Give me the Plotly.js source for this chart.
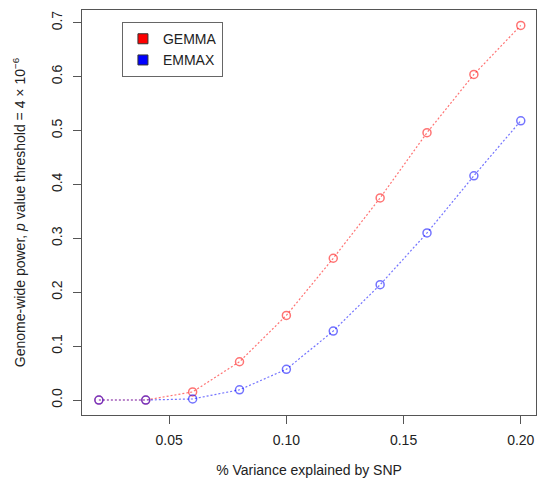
<!DOCTYPE html>
<html><head><meta charset="utf-8">
<script src="https://cdn.plot.ly/plotly-3.0.1.min.js"></script>
<style>html,body{margin:0;padding:0;background:#fff}#chart{width:537px;height:487px}</style>
</head><body><div id="chart"></div>
<script>
const variance = [0.02, 0.04, 0.06, 0.08, 0.10, 0.12, 0.14, 0.16, 0.18, 0.20];
const gemmaPower = [0.000, 0.000, 0.015, 0.071, 0.157, 0.263, 0.375, 0.496, 0.604, 0.695];
const emmaxPower = [0.000, 0.000, 0.002, 0.019, 0.057, 0.128, 0.214, 0.310, 0.416, 0.518];
const seriesNames = ["GEMMA", "EMMAX"];
const xTicks = [0.05, 0.10, 0.15, 0.20];
const yTicks = [0.0, 0.1, 0.2, 0.3, 0.4, 0.5, 0.6, 0.7];

const red = "rgba(255,0,0,0.55)";
const blue = "rgba(0,0,255,0.55)";
function series(y, col) {
  return {x: variance, y: y, type: "scatter", mode: "lines+markers", showlegend: false,
    line: {color: col, width: 1.2, dash: "2px,2px"},
    marker: {symbol: "circle-open", size: 8, color: col, line: {width: 1.5, color: col}},
    cliponaxis: false, hoverinfo: "skip"};
}
function legendItem(name, col) {
  return {x: [null], y: [null], type: "scatter", mode: "markers", name: name, showlegend: true,
    marker: {symbol: "square", size: 10, color: col, line: {width: 1, color: "#333"}}};
}
const data = [series(gemmaPower, red), series(emmaxPower, blue),
  legendItem(seriesNames[0], "#ff0000"), legendItem(seriesNames[1], "#0000ff")];
const font = {family: "Liberation Sans, Arial, sans-serif", size: 14, color: "#222"};
const layout = {
  width: 537, height: 487,
  margin: {l: 82, r: 1, t: 10, b: 72},
  paper_bgcolor: "#fff", plot_bgcolor: "#fff",
  font: font,
  showlegend: true,
  legend: {x: 0.088, y: 0.97, xanchor: "left", yanchor: "top", bordercolor: "#666", borderwidth: 1,
    bgcolor: "#fff", font: {family: font.family, size: 14, color: "#222"}, tracegroupgap: 0,
    itemwidth: 30},
  xaxis: {range: [0.0128, 0.2065], tickvals: xTicks, tickformat: ".2f",
    showgrid: false, zeroline: false, showline: true, mirror: true, linecolor: "#555", linewidth: 1,
    ticks: "outside", ticklen: 8, tickcolor: "#555", ticklabelstandoff: 4,
    title: {text: "% Variance explained by SNP", font: {size: 14, color: "#222"}, standoff: 18}},
  yaxis: {range: [-0.0278, 0.7236], tickvals: yTicks, tickformat: ".1f", tickangle: -90,
    showgrid: false, zeroline: false, showline: true, mirror: true, linecolor: "#555", linewidth: 1,
    ticks: "outside", ticklen: 8, tickcolor: "#555", ticklabelstandoff: 5,
    title: {text: "Genome-wide power, <i>p</i> value threshold = 4 × 10<sup>−6</sup>", font: {size: 14, color: "#222"}, standoff: 20}}
};
Plotly.newPlot("chart", data, layout, {staticPlot: true, displayModeBar: false});
</script></body></html>
